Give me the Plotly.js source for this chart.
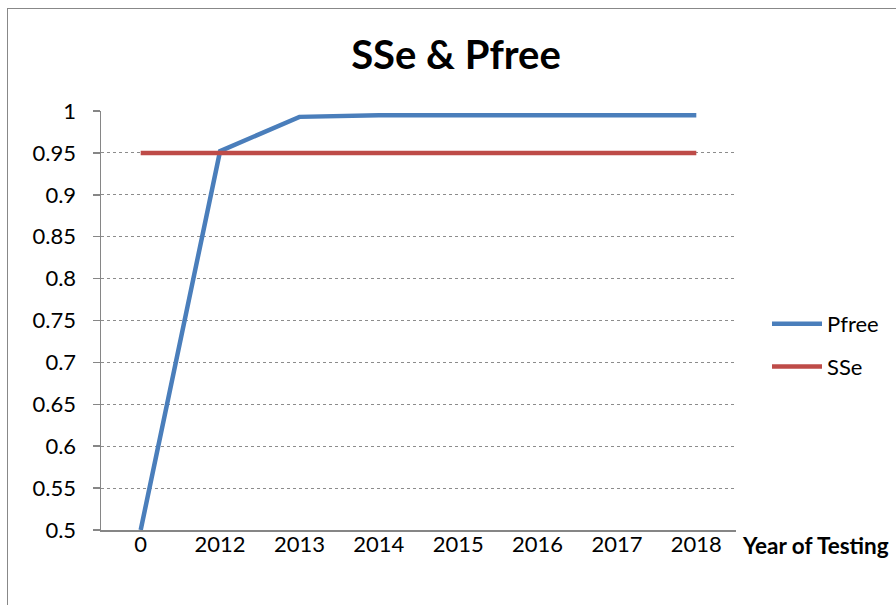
<!DOCTYPE html>
<html>
<head>
<meta charset="utf-8">
<script src="https://cdn.plot.ly/plotly-3.0.1.min.js"></script>
<style>
html,body{margin:0;padding:0;background:#fff;}
#frame{position:absolute;left:7px;top:8px;width:1000px;height:700px;border-left:1px solid #888;border-top:1px solid #888;box-sizing:border-box;pointer-events:none;}
#chart{position:absolute;left:0;top:0;width:896px;height:605px;}
</style>
</head>
<body>
<div id="chart"></div>
<div id="frame"></div>
<script>
const categories = ["0","2012","2013","2014","2015","2016","2017","2018"];
const pfree = [0.5, 0.952, 0.993, 0.995, 0.995, 0.995, 0.995, 0.995];
const sse = [0.95, 0.95, 0.95, 0.95, 0.95, 0.95, 0.95, 0.95];
const yTickVals = [0.5,0.55,0.6,0.65,0.7,0.75,0.8,0.85,0.9,0.95,1];
const yTickText = ["0.5","0.55","0.6","0.65","0.7","0.75","0.8","0.85","0.9","0.95","1"];

const font = "Lato, 'Open Sans', sans-serif";
const L = 101, R = 736, T = 111, B = 530;
const traces = [
  {x: categories, y: pfree, name: "Pfree", type: "scatter", mode: "lines",
   line: {color: "#4a7ebb", width: 4.5}, legendgroup: "a"},
  {x: categories, y: sse, name: "SSe", type: "scatter", mode: "lines",
   line: {color: "#be4b48", width: 4.5}, legendgroup: "b"}
];
const layout = {
  width: 896, height: 605,
  margin: {l: L, r: 896 - R, t: T, b: 605 - B},
  paper_bgcolor: "#fff", plot_bgcolor: "#fff",
  font: {family: font, size: 22, color: "#000"},
  title: {text: "<b>SSe &amp; Pfree</b>", font: {family: font, size: 40, color: "#000"},
          x: 456/896, xanchor: "center", xref: "container", y: 1 - 55/605, yanchor: "middle", yref: "container"},
  xaxis: {type: "category", range: [-0.5, 7.5], showgrid: false, zeroline: false,
          showline: true, linecolor: "#868686", linewidth: 1.5, ticks: "",
          tickfont: {family: font, size: 22, color: "#000"}, ticklabelstandoff: -6},
  yaxis: {range: [0.5, 1], tickvals: yTickVals, ticktext: yTickText,
          showgrid: true, gridcolor: "#8c8c8c", griddash: "dot", gridwidth: 1,
          zeroline: false, showline: true, linecolor: "#868686", linewidth: 1.5,
          ticks: "outside", ticklen: 7, tickcolor: "#868686", tickwidth: 1.5,
          tickfont: {family: font, size: 22, color: "#000"}, ticklabelstandoff: 12},
  showlegend: true,
  legend: {x: (767 - L) / (R - L), xanchor: "left", y: (B - 303) / (B - T), yanchor: "top", xref: "paper", yref: "paper",
           font: {family: font, size: 22, color: "#000"}, itemwidth: 50,
           tracegroupgap: 11, bgcolor: "rgba(0,0,0,0)"},
  annotations: [
    {text: "<b>Year of Testing</b>", xref: "paper", yref: "paper",
     x: (815 - L) / (R - L), y: -(545 - B) / (B - T),
     showarrow: false, font: {family: font, size: 22.5, color: "#000"}, xanchor: "center", yanchor: "middle"}
  ]
};
Plotly.newPlot("chart", traces, layout, {displayModeBar: false, staticPlot: true});
</script>
</body>
</html>
